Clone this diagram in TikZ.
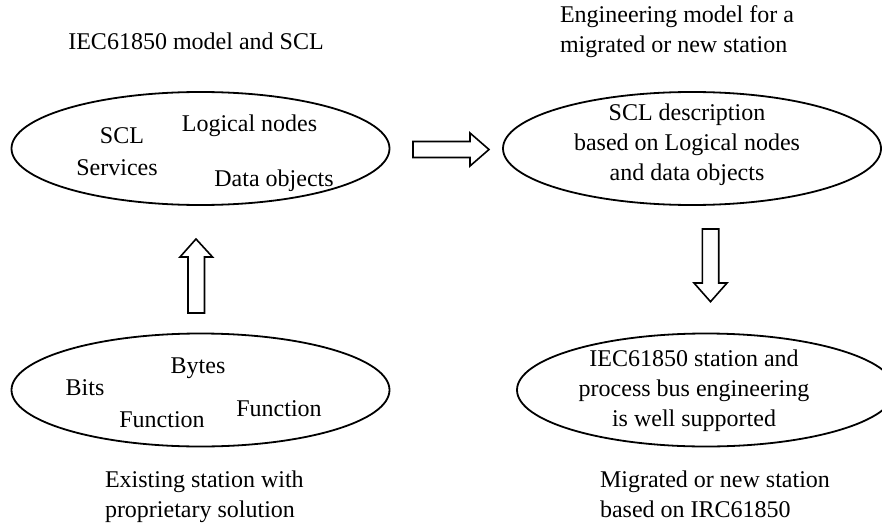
\documentclass[tikz,border=0pt]{standalone}
\usepackage{fontspec}
\setmainfont{Liberation Serif}
\usetikzlibrary{shapes.geometric}
\begin{document}
\begin{tikzpicture}[x=0.5pt,y=-0.5pt,
  every node/.style={font=\fontsize{12}{15}\selectfont, inner sep=0pt, outer sep=0pt},
  oval/.style={draw, ellipse, line width=0.9pt, minimum width=189pt, minimum height=56.5pt},
  lbl/.style={anchor=base},
  blk/.style={draw, line width=0.8pt, line join=miter, fill=white}]
\clip (0,0) rectangle (882,524);
% ellipses
\node[oval] (model) at (200.5,148.5) {};
\node[oval] (eng) at (692,148.5) {};
\node[oval] (prop) at (200.5,390) {};
\node[oval] (stat) at (706,390) {};
% texts in top-left ellipse
\node[lbl] (scl) at (122,143) {SCL};
\node[lbl] (ln) at (249.5,132) {Logical nodes};
\node[lbl] (srv) at (117,175) {Services};
\node[lbl] (dob) at (274,186) {Data objects};
% texts in bottom-left ellipse
\node[lbl] (bytes) at (198,373.5) {Bytes};
\node[lbl] (bits) at (85,395) {Bits};
\node[lbl] (fn1) at (162,427) {Function};
\node[lbl] (fn2) at (279,416) {Function};
% texts in right ellipses
\node[align=center] (engt) at (687,144.5) {SCL description\\based on Logical nodes\\and data objects};
\node[align=center] (statt) at (694,390.5) {IEC61850 station and\\process bus engineering\\is well supported};
% captions
\node[lbl] (cap1) at (196,50) {IEC61850 model and SCL};
\node[align=left, anchor=west] (cap2) at (560,32) {Engineering model for a\\migrated or new station};
\node[align=left, anchor=west] (cap3) at (105,497) {Existing station with\\proprietary solution};
\node[align=left, anchor=west] (cap4) at (600,494.5) {Migrated or new station\\based on IRC61850};
% block arrows
\draw[blk] (413,141.5) -- (470,141.5) -- (470,133) -- (489,149.5) -- (470,166) -- (470,157.5) -- (413,157.5) -- cycle;
\draw[blk] (188,313) -- (188,257) -- (180,257) -- (196,239) -- (212.5,257) -- (204.5,257) -- (204.5,313) -- cycle;
\draw[blk] (702.3,229) -- (718.7,229) -- (718.7,283) -- (727,283) -- (710.5,301.7) -- (694,283) -- (702.3,283) -- cycle;
\end{tikzpicture}
\end{document}
